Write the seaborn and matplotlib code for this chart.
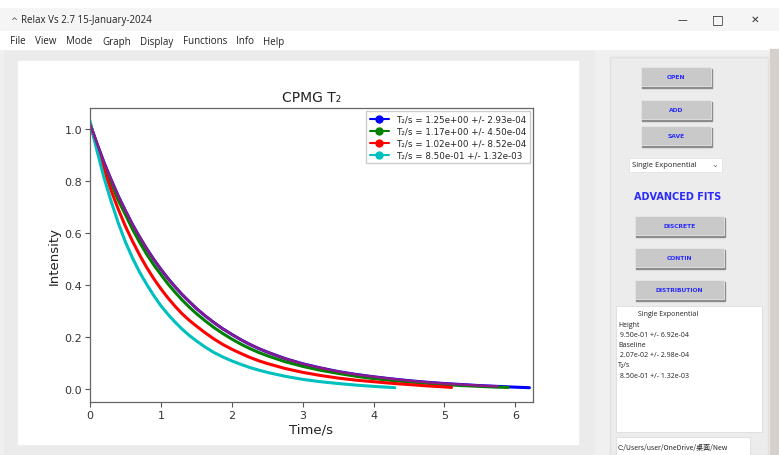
import pandas as pd
import numpy as np
import matplotlib.pyplot as plt
from matplotlib.patches import Rectangle
from matplotlib.lines import Line2D
import seaborn as sns

sns.set_theme(context="notebook", style="white")
plt.rcParams["font.family"] = ["DejaVu Sans", "Noto Sans CJK SC"]

# decay curves (time in s, normalised intensity)
time_blue = [0, 0.1, 0.2, 0.3, 0.4, 0.5, 0.6, 0.7, 0.8, 0.9, 1.0, 1.1, 1.2, 1.3, 1.4,
             1.5, 1.625, 1.75, 1.875, 2.0, 2.125, 2.25, 2.375, 2.5, 2.75, 3.0, 3.25,
             3.5, 3.75, 4.0, 4.25, 4.5, 4.75, 5.0, 5.25, 5.5, 5.75, 6.0, 6.2]
int_blue = [1.02, 0.942, 0.869, 0.803, 0.741, 0.685, 0.632, 0.584, 0.539, 0.498, 0.46,
            0.425, 0.393, 0.363, 0.336, 0.31, 0.281, 0.255, 0.231, 0.21, 0.19, 0.172,
            0.156, 0.142, 0.117, 0.097, 0.081, 0.067, 0.056, 0.047, 0.039, 0.032,
            0.026, 0.021, 0.017, 0.013, 0.010, 0.007, 0.005]

time_green = [0, 0.1, 0.2, 0.3, 0.4, 0.5, 0.6, 0.7, 0.8, 0.9, 1.0, 1.1, 1.2, 1.3, 1.4,
              1.5, 1.625, 1.75, 1.875, 2.0, 2.125, 2.25, 2.375, 2.5, 2.75, 3.0, 3.25,
              3.5, 3.75, 4.0, 4.25, 4.5, 4.75, 5.0, 5.25, 5.5, 5.75, 5.9]
int_green = [1.02, 0.936, 0.86, 0.789, 0.725, 0.67, 0.614, 0.564, 0.518, 0.477, 0.44,
             0.404, 0.372, 0.342, 0.315, 0.29, 0.262, 0.236, 0.213, 0.192, 0.173,
             0.156, 0.141, 0.128, 0.105, 0.087, 0.072, 0.060, 0.049, 0.040, 0.033,
             0.027, 0.022, 0.017, 0.013, 0.010, 0.007, 0.006]

time_red = [0, 0.1, 0.2, 0.3, 0.4, 0.5, 0.6, 0.7, 0.8, 0.9, 1.0, 1.1, 1.2, 1.3, 1.4,
            1.5, 1.625, 1.75, 1.875, 2.0, 2.125, 2.25, 2.375, 2.5, 2.75, 3.0, 3.25,
            3.5, 3.75, 4.0, 4.25, 4.5, 4.75, 5.0, 5.1]
int_red = [1.02, 0.925, 0.84, 0.762, 0.69, 0.625, 0.568, 0.515, 0.467, 0.424, 0.385,
           0.35, 0.318, 0.289, 0.264, 0.242, 0.216, 0.192, 0.171, 0.153, 0.137, 0.122,
           0.109, 0.098, 0.079, 0.064, 0.052, 0.042, 0.034, 0.028, 0.022, 0.017,
           0.012, 0.008, 0.006]

time_cyan = [0, 0.1, 0.2, 0.3, 0.4, 0.5, 0.6, 0.7, 0.8, 0.9, 1.0, 1.1, 1.2, 1.3, 1.4,
             1.5, 1.625, 1.75, 1.875, 2.0, 2.125, 2.25, 2.375, 2.5, 2.75, 3.0, 3.25,
             3.5, 3.75, 4.0, 4.25, 4.3]
int_cyan = [1.03, 0.914, 0.81, 0.72, 0.637, 0.565, 0.503, 0.449, 0.402, 0.359, 0.32,
            0.287, 0.257, 0.23, 0.206, 0.185, 0.161, 0.14, 0.123, 0.108, 0.095, 0.083,
            0.073, 0.064, 0.049, 0.037, 0.028, 0.021, 0.015, 0.010, 0.006, 0.005]

labels = [
    "T\u2082/s = 1.25e+00 +/- 2.93e-04",
    "T\u2082/s = 1.17e+00 +/- 4.50e-04",
    "T\u2082/s = 1.02e+00 +/- 8.52e-04",
    "T\u2082/s = 8.50e-01 +/- 1.32e-03",
]
colors = ["#0000ff", "#008000", "#ff0000", "#00bfbf"]

fit_lines = ["Single Exponential", "Height", " 9.50e-01 +/- 6.92e-04", "Baseline",
             " 2.07e-02 +/- 2.98e-04", "T\u2082/s", " 8.50e-01 +/- 1.32e-03"]
menu_items = ["File", "View", "Mode", "Graph", "Display", "Functions", "Info", "Help"]

df = pd.concat([
    pd.DataFrame({"series": labels[0], "time": time_blue, "intensity": int_blue}),
    pd.DataFrame({"series": labels[1], "time": time_green, "intensity": int_green}),
    pd.DataFrame({"series": labels[2], "time": time_red, "intensity": int_red}),
    pd.DataFrame({"series": labels[3], "time": time_cyan, "intensity": int_cyan}),
])

fig = plt.figure(figsize=(7.79, 4.56), dpi=100)
fig.patch.set_facecolor("#f0f0f0")

# window chrome drawn in pixel coords
bg = fig.add_axes([0, 0, 1, 1])
bg.set_xlim(0, 779)
bg.set_ylim(456, 0)
bg.axis("off")

bg.add_patch(Rectangle((0, 0), 779, 9, color="white"))
bg.add_patch(Rectangle((0, 9), 779, 23, color="#f5f5f5"))
bg.add_patch(Rectangle((0, 32), 779, 18, color="white"))
bg.add_patch(Rectangle((4, 52), 590, 404, color="#ebebeb"))
bg.add_patch(Rectangle((18, 62), 560, 383, color="white"))
bg.add_patch(Rectangle((610, 58), 158, 398, color="#ececec", ec="#e0e0e0"))
bg.add_patch(Rectangle((770, 50), 9, 406, color="#d6d0cc"))

bg.text(10, 21, "^", fontsize=6, color="#444", va="center")
bg.text(21, 21, "Relax Vs 2.7 15-January-2024", fontsize=7, color="#222",
        va="center", family="Open Sans")
bg.text(682, 20, "\u2014", fontsize=7, color="#333", ha="center", va="center")
bg.text(718, 20, "\u25a1", fontsize=9, color="#333", ha="center", va="center")
bg.text(755, 20, "\u2715", fontsize=7.5, color="#333", ha="center", va="center")

mx = [10, 35, 66, 102, 140, 183, 236, 263]
for x, item in zip(mx, menu_items):
    bg.text(x, 42, item, fontsize=7, color="#222", va="center", family="Open Sans")

def button(x, y, w, h, txt):
    bg.add_patch(Rectangle((x + 1.5, y + 1.5), w, h, color="#8c8c8c"))
    bg.add_patch(Rectangle((x, y), w, h, color="#c9c9c9", ec="#e6e6e6", lw=0.6))
    bg.text(x + w / 2, y + h / 2, txt, fontsize=4.3, color="#2a2aff",
            fontweight="bold", ha="center", va="center")

button(641, 68, 70, 19, "OPEN")
button(641, 101, 70, 19, "ADD")
button(641, 127, 70, 19, "SAVE")
button(635, 217, 89, 19, "DISCRETE")
button(635, 249, 89, 19, "CONTIN")
button(635, 281, 89, 19, "DISTRIBUTION")

bg.add_patch(Rectangle((629, 159), 93, 14, color="white", ec="#e2e2e2", lw=0.6))
bg.text(632, 166, "Single Exponential", fontsize=5.5, color="#222", va="center",
        family="Open Sans")
bg.text(715, 165, "\u2304", fontsize=6, color="#666", va="center", ha="center")
bg.text(678, 197, "ADVANCED FITS", fontsize=7, color="#2a2aff", fontweight="bold",
        ha="center", va="center")

bg.add_patch(Rectangle((616, 307), 146, 126, color="white", ec="#dcdcdc", lw=0.6))
for i, line in enumerate(fit_lines):
    x = 638 if i == 0 else 618
    bg.text(x, 315 + i * 10.2, line, fontsize=5, color="#222", va="center",
            family="Open Sans")
bg.add_patch(Rectangle((616, 438), 134, 18, color="white", ec="#dcdcdc", lw=0.6))
bg.text(618, 448, "C:/Users/user/OneDrive/桌面/New", fontsize=5, color="#222",
        va="center", family=["Noto Sans CJK SC", "DejaVu Sans"])

# the chart itself
ax = fig.add_axes([90 / 779, 1 - 403 / 456, 443 / 779, 294 / 456])
sns.lineplot(data=df, x="time", y="intensity", hue="series", palette=colors,
             lw=2.2, sort=False, estimator=None, legend=False, ax=ax,
             solid_joinstyle="round")
# fitted curve over the blue data
fit_t = [t for t in time_blue if t <= 5.9]
fit_i = int_blue[:len(fit_t)]
sns.lineplot(x=fit_t, y=fit_i, color="#8b1a8b", lw=1.8, sort=False,
             estimator=None, ax=ax, solid_joinstyle="round")

ax.set_xlim(0, 6.25)
ax.set_ylim(-0.05, 1.08)
ax.set_xticks([0, 1, 2, 3, 4, 5, 6])
ax.set_yticks([0.0, 0.2, 0.4, 0.6, 0.8, 1.0])
ax.set_yticklabels(["0.0", "0.2", "0.4", "0.6", "0.8", "1.0"])
ax.tick_params(bottom=True, left=True, length=3.5, width=0.8, color="#555",
               labelsize=8, labelcolor="#333", pad=2)
for s in ax.spines.values():
    s.set_color("#666")
    s.set_linewidth(0.9)
ax.set_title("CPMG T\u2082", fontsize=10, color="#222", pad=5)
ax.set_xlabel("Time/s", fontsize=9.5, color="#222", labelpad=2)
ax.set_ylabel("Intensity", fontsize=9.5, color="#222", labelpad=3)

handles = [Line2D([0], [0], color=c, marker="o", markersize=5, lw=1.5)
           for c in colors]
ax.legend(handles, labels, loc="upper right", fontsize=6.3, frameon=True,
          framealpha=1, edgecolor="#cccccc", fancybox=False, borderaxespad=0.35,
          handlelength=2.2, labelspacing=0.35)

fig.savefig("out.png", dpi=100)
